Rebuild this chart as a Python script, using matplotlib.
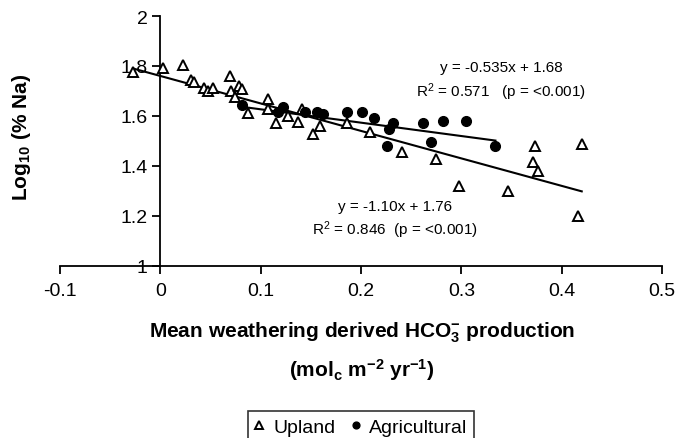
import matplotlib
matplotlib.use("Agg")
import matplotlib.pyplot as plt
import numpy as np

plt.rcParams['font.family'] = ['Liberation Sans', 'DejaVu Sans']
plt.rcParams['mathtext.fontset'] = 'custom'
plt.rcParams['mathtext.rm'] = 'Liberation Sans'
plt.rcParams['mathtext.bf'] = 'Liberation Sans:bold'
plt.rcParams['mathtext.it'] = 'Liberation Sans:italic'

# Upland sites
upland_x = [-0.027, 0.003, 0.023, 0.031, 0.034, 0.044, 0.048, 0.052, 0.069, 0.070,
            0.074, 0.078, 0.081, 0.087, 0.107, 0.107, 0.115, 0.127, 0.137, 0.141,
            0.152, 0.159, 0.186, 0.209, 0.241, 0.275, 0.298, 0.347, 0.371, 0.373,
            0.376, 0.416, 0.420]
upland_y = [1.777, 1.790, 1.805, 1.745, 1.737, 1.712, 1.700, 1.710, 1.761, 1.700,
            1.676, 1.720, 1.709, 1.612, 1.669, 1.629, 1.573, 1.601, 1.577, 1.629,
            1.529, 1.561, 1.573, 1.536, 1.456, 1.428, 1.320, 1.300, 1.416, 1.480,
            1.380, 1.200, 1.488]

# Agricultural sites
agri_x = [0.081, 0.117, 0.122, 0.144, 0.156, 0.162, 0.186, 0.201, 0.213, 0.232,
          0.228, 0.262, 0.282, 0.305, 0.226, 0.270, 0.334]
agri_y = [1.644, 1.616, 1.636, 1.616, 1.616, 1.608, 1.616, 1.616, 1.592, 1.572,
          1.548, 1.572, 1.580, 1.580, 1.480, 1.496, 1.480]

# Regression coefficients (slope, intercept)
upland_fit = (-1.10, 1.76)
agri_fit = (-0.535, 1.68)

xticks = [-0.1, 0, 0.1, 0.2, 0.3, 0.4, 0.5]
xticklabels = ['-0.1', '0', '0.1', '0.2', '0.3', '0.4', '0.5']
yticks = [1, 1.2, 1.4, 1.6, 1.8, 2]
yticklabels = ['1', '1.2', '1.4', '1.6', '1.8', '2']

fig = plt.figure(figsize=(6.77, 4.39), dpi=100)
ax = fig.add_axes([60/677, 1-266.8/439, (662-60)/677, (266.8-17)/439])

ax.plot(upland_x, upland_y, linestyle='none', marker='^', markersize=7.5,
        markerfacecolor='white', markeredgecolor='black', markeredgewidth=1.4,
        label='Upland', zorder=3)
ax.plot(agri_x, agri_y, linestyle='none', marker='o', markersize=7,
        markerfacecolor='black', markeredgecolor='black', label='Agricultural', zorder=3)

ux = np.array([min(upland_x), max(upland_x)])
ax.plot(ux, upland_fit[0]*ux + upland_fit[1], color='black', lw=1.5, zorder=2)
axx = np.array([min(agri_x), max(agri_x)])
ax.plot(axx, agri_fit[0]*axx + agri_fit[1], color='black', lw=1.5, zorder=2)

ax.set_xlim(-0.1, 0.5)
ax.set_ylim(1, 2)
ax.spines['left'].set_position(('data', 0))
ax.spines['top'].set_visible(False)
ax.spines['right'].set_visible(False)
for s in ['left', 'bottom']:
    ax.spines[s].set_linewidth(1.3)
ax.set_xticks(xticks)
ax.set_xticklabels(xticklabels)
ax.set_yticks(yticks)
ax.set_yticklabels(yticklabels)
ax.tick_params(axis='both', direction='out', length=6, width=1.3, labelsize=14)
ax.tick_params(axis='x', pad=6)
ax.tick_params(axis='y', pad=3)

ax.text(0.340, 1.797, 'y = -0.535x + 1.68', fontsize=11, ha='center', va='center')
ax.text(0.339, 1.700, 'R$^2$ = 0.571   (p = <0.001)', fontsize=11, ha='center', va='center')
ax.text(0.234, 1.240, 'y = -1.10x + 1.76', fontsize=11, ha='center', va='center')
ax.text(0.234, 1.147, 'R$^2$ = 0.846  (p = <0.001)', fontsize=11, ha='center', va='center')

fig.text(22/677, 1-137/439, r'Log$_{\mathbf{10}}$ (% Na)', rotation=90, fontsize=15,
         fontweight='bold', ha='center', va='center')
fig.text(362/677, 1-333/439, r'Mean weathering derived HCO$_{\mathbf{3}}^{\mathbf{-}}$ production',
         fontsize=15, fontweight='bold', ha='center', va='center')
fig.text(362/677, 1-370/439, r'(mol$_{\mathbf{c}}$ m$^{\mathbf{-2}}$ yr$^{\mathbf{-1}}$)',
         fontsize=15, fontweight='bold', ha='center', va='center')

leg = fig.legend(loc='center', bbox_to_anchor=(361/677, 1-428/439), ncol=2,
                 frameon=True, fancybox=False, edgecolor='black', fontsize=14,
                 handlelength=0.5, handletextpad=0.45, columnspacing=0.8,
                 borderpad=0.35, markerscale=0.7)
leg.get_frame().set_linewidth(1.2)

fig.savefig('out.png', dpi=100)
